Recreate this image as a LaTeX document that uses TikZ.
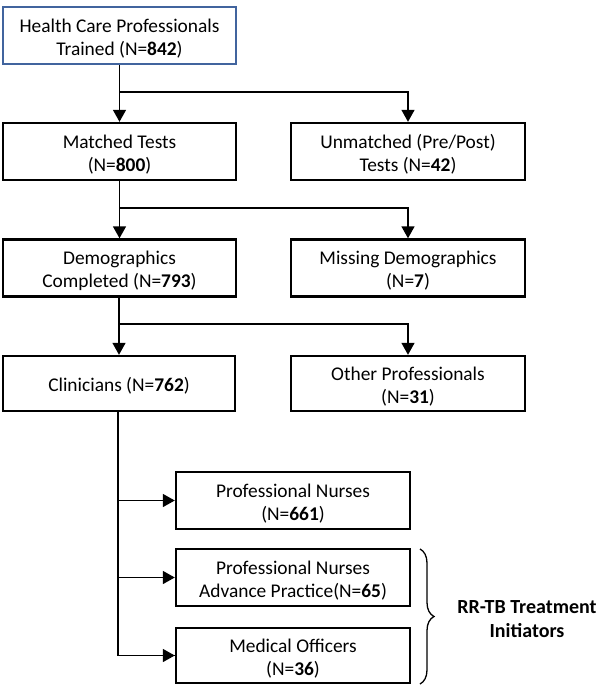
\documentclass[tikz,border=0pt]{standalone}
\usepackage{fontspec}
\setmainfont{Carlito}
\usetikzlibrary{arrows.meta,decorations.pathreplacing}
\definecolor{boxblue}{HTML}{41649E}
\newcommand{\lowtxt}[1]{\raisebox{-3.5pt}[\height][\depth]{\begin{tabular}{@{}c@{}}#1\end{tabular}}}
\begin{document}
\begin{tikzpicture}[x=1pt,y=-1pt,
  box/.style={draw=black,line width=2.4pt,rectangle,inner sep=0pt,font=\fontsize{19.4}{23}\selectfont,minimum height=57pt},
  conn/.style={line width=1.5pt},
  arr/.style={conn,-{Triangle[length=12pt,width=13pt]}}]
\useasboundingbox (0,0) rectangle (597,686);
\node[box,draw=boxblue,minimum width=233pt] (top) at (119.5,35.5) {\lowtxt{Health Care Professionals\\Trained (N=\textbf{842})}};
\node[box,minimum width=233pt] (matched) at (119.5,151.5) {\lowtxt{Matched Tests\\(N=\textbf{800})}};
\node[box,minimum width=234pt] (unmatched) at (408,151.5) {\lowtxt{Unmatched (Pre/Post)\\Tests (N=\textbf{42})}};
\node[box,minimum width=233pt] (demo) at (119.5,268) {\lowtxt{Demographics\\Completed (N=\textbf{793})}};
\node[box,minimum width=234pt] (missing) at (408,268) {\lowtxt{Missing Demographics\\(N=\textbf{7})}};
\node[box,minimum width=232pt,minimum height=55pt] (clin) at (119,383.5) {\lowtxt{Clinicians (N=\textbf{762})}};
\node[box,minimum width=234pt,minimum height=55pt] (other) at (408,383.5) {\lowtxt{Other Professionals\\(N=\textbf{31})}};
\node[box,minimum width=234pt] (pn) at (293,500.5) {\lowtxt{Professional Nurses\\(N=\textbf{661})}};
\node[box,minimum width=234pt] (pnap) at (293,577.5) {\lowtxt{Professional Nurses\\Advance Practice(N=\textbf{65})}};
\node[box,minimum width=234pt,minimum height=55pt] (mo) at (293,655.5) {\lowtxt{Medical Officers\\(N=\textbf{36})}};
\node[font=\fontsize{20}{24.5}\selectfont\bfseries,align=center] (rr) at (527,619) {RR-TB Treatment\\Initiators};
\coordinate (b1) at (119.5,92);
\coordinate (b2) at (119.5,208);
\coordinate (b3) at (119,324);
\draw[arr] (top.south) -- (matched.north);
\draw[arr] (b1) -| (unmatched.north);
\draw[arr] (matched.south) -- (demo.north);
\draw[arr] (b2) -| (missing.north);
\draw[arr] (demo.south -| clin.north) -- (clin.north);
\draw[arr] (b3) -| (other.north);
\coordinate (tr) at (118,412);
\draw[conn] (tr) |- (mo.west);
\draw[arr] (tr |- pn.west) -- (pn.west);
\draw[arr] (tr |- pnap.west) -- (pnap.west);
\draw[arr] (tr |- mo.west) -- (mo.west);
\coordinate (bt) at (420,549);
\coordinate (bb) at (420,684);
\draw[line width=1.3pt,decorate,decoration={brace,amplitude=14pt,aspect=0.5}] (bt) -- (bb);
\end{tikzpicture}
\end{document}
